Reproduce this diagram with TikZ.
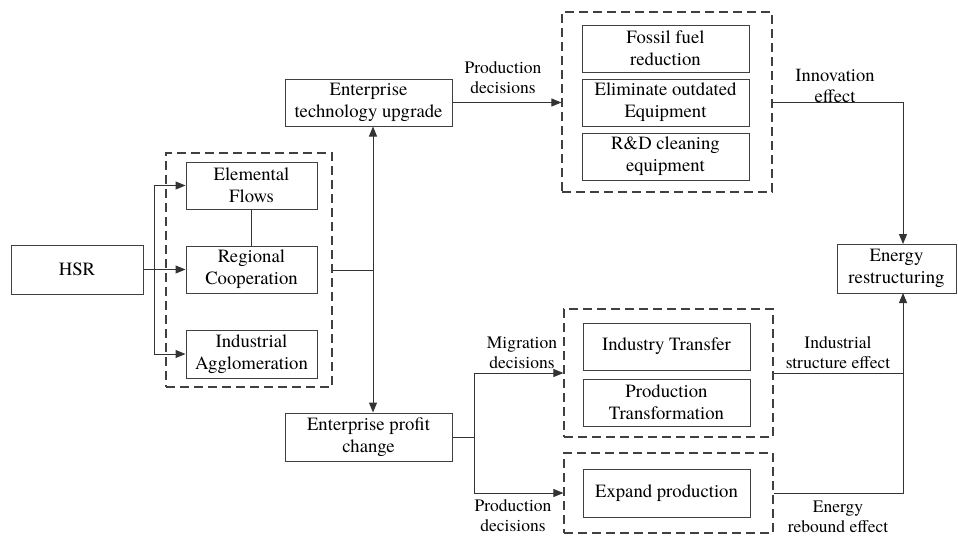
\documentclass[tikz,border=0pt]{standalone}
\usepackage{fontspec}
\setmainfont{TeX Gyre Termes}
\usetikzlibrary{arrows.meta}
\def\BoxFont{\fontsize{18.7}{22}\selectfont}
\def\LabelFont{\fontsize{17.5}{20}\selectfont}
\def\BoxW{167pt}
\def\BoxH{47pt}
\def\RailX{903}

\tikzset{
  blockbox/.style={draw=black!75, line width=1pt, fill=white, align=center,
    inner sep=0pt, font=\BoxFont, minimum width=\BoxW, minimum height=\BoxH},
  groupbox/.style={draw=black!75, line width=1.2pt, dash pattern=on 9pt off 5pt,
    inner sep=0pt},
  link/.style={draw=black!80, line width=1pt},
  arrowlink/.style={link, -{Triangle[length=10pt,width=8pt]}},
  effectlabel/.style={align=center, font=\LabelFont, inner sep=0pt},
}

\begin{document}
\begin{tikzpicture}[x=1pt,y=-1pt]

\useasboundingbox (0,0) rectangle (958,536);

% =====================================================
% DASHED GROUPS
% =====================================================
\node[groupbox, minimum width=166pt, minimum height=234pt] (grpL) at (249,270) {};
\node[groupbox, minimum width=210pt, minimum height=180pt] (grpT) at (667,102) {};
\node[groupbox, minimum width=209pt, minimum height=128pt] (grpM) at (668.5,373) {};
\node[groupbox, minimum width=209pt, minimum height=80pt] (grpX) at (668.5,493) {};

% =====================================================
% LEFT PART
% =====================================================
\node[blockbox, minimum width=132pt, minimum height=49pt] (hsr) at (77,269.5) {HSR};

\node[blockbox, minimum width=131pt] (flows) at (251.5,185.5) {Elemental\\Flows};
\node[blockbox, minimum width=131pt] (coop) at (251.5,269.5) {Regional\\Cooperation};
\node[blockbox, minimum width=131pt, minimum height=48pt] (agglo) at (251.5,354) {Industrial\\Agglomeration};

% =====================================================
% ENTERPRISE RESPONSES
% =====================================================
\node[blockbox] (upgrade) at (368.5,102.5) {Enterprise\\technology upgrade};
\node[blockbox, minimum height=48pt] (profit) at (368.5,437) {Enterprise profit\\change};

% =====================================================
% RIGHT PART
% =====================================================
\node[blockbox] (fossil) at (665.5,48.5) {Fossil fuel\\reduction};
\node[blockbox] (elim) at (665.5,102.5) {Eliminate outdated\\Equipment};
\node[blockbox] (rnd) at (665.5,156.5) {R\&D cleaning\\equipment};

\node[blockbox] (transfer) at (666.5,346.5) {Industry Transfer};
\node[blockbox] (transform) at (666.5,402.5) {Production\\Transformation};
\node[blockbox, minimum height=48pt] (expand) at (666.5,493) {Expand production};

\node[blockbox, minimum width=119pt, minimum height=49pt] (energy) at (896.5,268.5) {Energy\\restructuring};

% =====================================================
% CONNECTORS
% =====================================================
\coordinate (jl) at (154,269.5);
\coordinate (jm) at (373,270);
\coordinate (jp) at (474,437);
\coordinate (eIn) at (\RailX,244);
\coordinate (eOut) at (\RailX,293);

\draw[arrowlink] (hsr.east) -- (coop.west);
\draw[arrowlink] (jl) |- (flows.west);
\draw[arrowlink] (jl) |- (agglo.west);
\draw[link] (flows.south) -- (coop.north);

\draw[link] (grpL.east) -- (jm);
\draw[arrowlink] (jm) -- (jm |- upgrade.south);
\draw[arrowlink] (jm) -- (jm |- profit.north);

\draw[arrowlink] (upgrade.east) -- (upgrade.east -| grpT.west);
\draw[arrowlink] (grpT.east) -| (eIn);

\draw[link] (profit.east) -- (jp);
\draw[arrowlink] (jp) |- (grpM.west);
\draw[arrowlink] (jp) |- (grpX.west);

\draw[link] (grpM.east) -- (grpM.east -| eOut);
\draw[arrowlink] (grpX.east) -| (eOut);

% Labels on the connectors
\node[effectlabel] (lblProd) at (503,78) {Production\\decisions};
\node[effectlabel, font=\fontsize{18.5}{21}\selectfont] (lblInno) at (835,86) {Innovation\\effect};
\node[effectlabel] (lblMigr) at (522,353) {Migration\\decisions};
\node[effectlabel] (lblProd2) at (513,516) {Production\\decisions};
\node[effectlabel] (lblStruct) at (838,353) {Industrial\\structure effect};
\node[effectlabel] (lblRebound) at (838,517) {Energy\\rebound effect};

\end{tikzpicture}
\end{document}
